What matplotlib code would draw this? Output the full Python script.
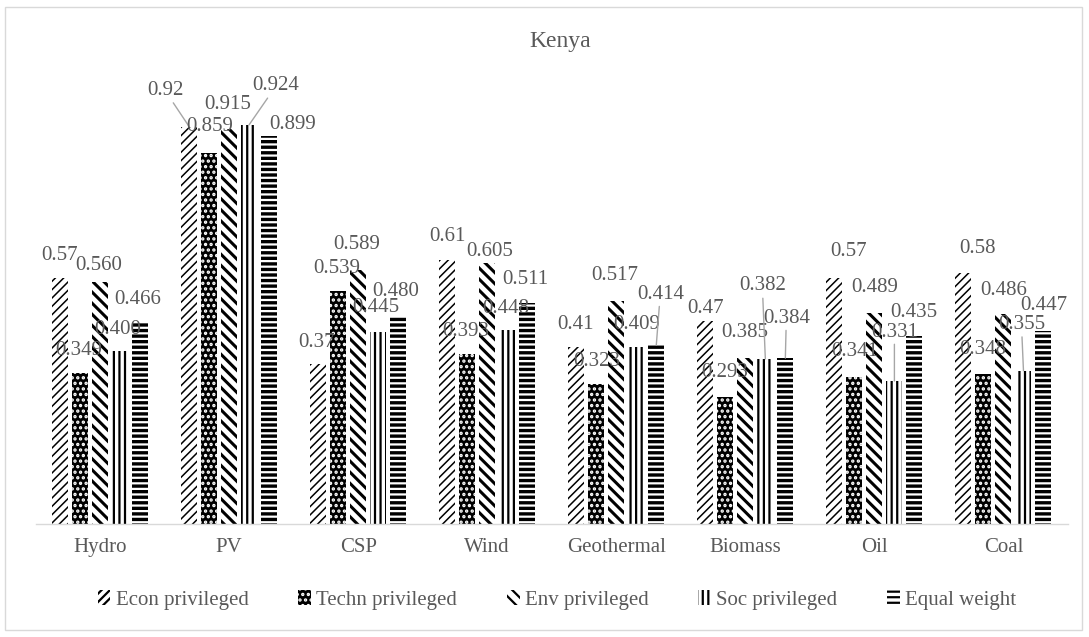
import matplotlib
matplotlib.use("Agg")
import matplotlib.pyplot as plt
from matplotlib.patches import Patch, Rectangle
import numpy as np

# ---- data -------------------------------------------------------------
categories = ["Hydro", "PV", "CSP", "Wind", "Geothermal", "Biomass", "Oil", "Coal"]
series_names = ["Econ privileged", "Techn privileged", "Env privileged",
                "Soc privileged", "Equal weight"]
econ = [0.57, 0.92, 0.37, 0.61, 0.41, 0.47, 0.57, 0.58]
techn = [0.349, 0.859, 0.539, 0.393, 0.323, 0.293, 0.341, 0.348]
env = [0.560, 0.915, 0.589, 0.605, 0.517, 0.385, 0.489, 0.486]
soc = [0.400, 0.924, 0.445, 0.448, 0.409, 0.382, 0.331, 0.355]
equal = [0.466, 0.899, 0.480, 0.511, 0.414, 0.384, 0.435, 0.447]
label_formats = ["{:.2f}", "{:.3f}", "{:.3f}", "{:.3f}", "{:.3f}"]

# ---- label placement (pixel offsets from bar top, leader-line flag) -----
label_offsets = [
    # Hydro, PV, CSP, Wind, Geothermal, Biomass, Oil, Coal
    [(0, 22), (-24, 36), (-2, 22), (0, 24), (-1, 22), (0, 12), (14, 26), (14, 25)],
    [(-1, 23), (1, 26), (-1, 23), (-1, 23), (0, 23), (-1, 25), (0, 25), (-1, 24)],
    [(-1, 17), (-1, 24), (-1, 25), (2, 11), (-2, 25), (-1, 25), (0, 25), (0, 24)],
    [(-2, 22), (27, 39), (-2, 24), (-1, 22), (0, 23), (-3, 73), (0, 49), (-2, 46)],
    [(-2, 23), (24, 11), (-2, 25), (-2, 24), (4, 51), (1, 40), (-1, 24), (0, 25)],
]
leader = [
    [0, 1, 0, 0, 0, 0, 0, 0],
    [0, 0, 0, 0, 0, 0, 0, 0],
    [0, 0, 0, 0, 0, 0, 0, 0],
    [0, 1, 0, 0, 0, 1, 1, 1],
    [0, 0, 0, 0, 1, 1, 0, 0],
]

# ---- styles ------------------------------------------------------------
TEXT = "#595959"
GRID = "#d9d9d9"
styles = [
    dict(facecolor="white", edgecolor="black", hatch="////", hlw=1.1),
    dict(facecolor="black", edgecolor="white", hatch="...", hlw=1.6),
    dict(facecolor="white", edgecolor="black", hatch="\\\\\\", hlw=2.2),
    dict(facecolor="white", edgecolor="black", hatch="|||", hlw=1.6),
    dict(facecolor="white", edgecolor="black", hatch="---", hlw=2.4),
]

plt.rcParams["font.family"] = ["Liberation Serif", "DejaVu Serif"]
plt.rcParams["hatch.linewidth"] = 1.6

W, H = 1089, 637
fig = plt.figure(figsize=(W / 100, H / 100), dpi=100)

# chart-area frame
fig.patches.append(Rectangle((5 / W, 1 - 630 / H), 1077 / W, 623 / H,
                             transform=fig.transFigure, fill=False,
                             edgecolor=GRID, linewidth=1.0))

ax = fig.add_axes([35.5 / W, (H - 524) / H, (1068 - 35.5) / W, 432 / H])

all_series = [econ, techn, env, soc, equal]
x = np.arange(len(categories))
pitch = 20 / 129.07
width = 16 / 129.07


def set_hatch_lw(artist, lw):
    if hasattr(artist, "set_hatch_linewidth"):
        artist.set_hatch_linewidth(lw)


for s, (vals, st) in enumerate(zip(all_series, styles)):
    xs = x + (s - 2) * pitch
    bars = ax.bar(xs, vals, width=width, facecolor=st["facecolor"],
                  edgecolor=st["edgecolor"], hatch=st["hatch"], linewidth=0,
                  zorder=2)
    for b in bars:
        set_hatch_lw(b, st["hlw"])
    for i, v in enumerate(vals):
        dx, dy = label_offsets[s][i]
        kw = {}
        if leader[s][i]:
            kw["arrowprops"] = dict(arrowstyle="-", color="#a6a6a6", lw=1.0,
                                    shrinkA=0, shrinkB=0)
        ax.annotate(label_formats[s].format(v), xy=(xs[i], v),
                    xytext=(dx, dy), textcoords="offset pixels",
                    ha="center", va="center", fontsize=15, color=TEXT,
                    zorder=5, **kw)

ax.set_xlim(-0.5, len(categories) - 0.5)
ax.set_ylim(0, 1.0)
ax.set_xticks(x)
ax.set_xticklabels(categories, fontsize=15, color=TEXT)
ax.tick_params(axis="x", length=0, pad=10)
ax.set_yticks([])
for side in ("top", "left", "right"):
    ax.spines[side].set_visible(False)
ax.spines["bottom"].set_color(GRID)
ax.spines["bottom"].set_linewidth(1.0)
ax.patch.set_alpha(0)

fig.text(560 / W, 1 - 42 / H, "Kenya", ha="center", va="center",
         fontsize=17, color=TEXT)

handles = []
for st in styles:
    p = Patch(facecolor=st["facecolor"], edgecolor=st["edgecolor"],
              hatch=st["hatch"], linewidth=0)
    set_hatch_lw(p, st["hlw"])
    handles.append(p)
leg = fig.legend(handles, series_names, loc="center",
                 bbox_to_anchor=(557 / W, 1 - 600 / H), ncol=5, frameon=False,
                 fontsize=15, handlelength=0.6, handleheight=0.7,
                 handletextpad=0.25, columnspacing=2.4)
for t in leg.get_texts():
    t.set_color(TEXT)

fig.savefig("out.png", dpi=100)
